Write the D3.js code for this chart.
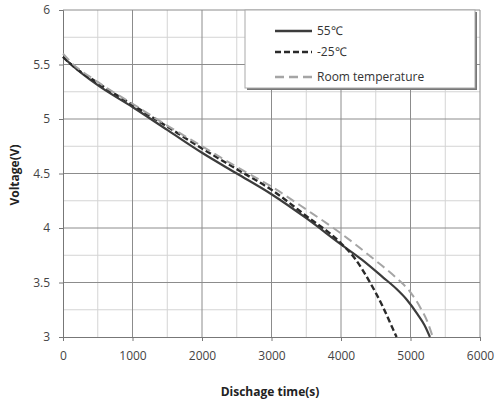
<!DOCTYPE html>
<html>
<head>
<meta charset="utf-8">
<script src="https://cdn.jsdelivr.net/npm/d3@7"></script>
<style>
  body { margin: 0; background: #fff; }
  text { font-family: "Open Sans", sans-serif; }
</style>
</head>
<body>
<script>
// discharge curves, time (s) vs voltage (V)
var hotTime = [0, 100, 500, 1000, 1500, 2000, 2500, 3000, 3500, 4000, 4300, 4600, 4800, 4950, 5100, 5200, 5280]
var hotVolt = [5.57, 5.51, 5.31, 5.11, 4.90, 4.69, 4.50, 4.31, 4.09, 3.85, 3.71, 3.55, 3.44, 3.34, 3.21, 3.11, 3.0]

var coldTime = [0, 100, 500, 1000, 1500, 2000, 2500, 3000, 3500, 4000, 4200, 4400, 4600, 4750, 4800]
var coldVolt = [5.57, 5.51, 5.33, 5.13, 4.93, 4.73, 4.54, 4.35, 4.11, 3.86, 3.72, 3.52, 3.28, 3.07, 3.0]

var roomTime = [0, 100, 500, 1000, 1500, 2000, 2500, 3000, 3500, 4000, 4500, 4800, 5000, 5150, 5250, 5320]
var roomVolt = [5.60, 5.53, 5.34, 5.14, 4.94, 4.75, 4.56, 4.38, 4.17, 3.95, 3.70, 3.54, 3.41, 3.26, 3.13, 3.0]

var seriesNames = ["55\u2103", "-25\u2103", "Room temperature"]
var xTicks = [0, 1000, 2000, 3000, 4000, 5000, 6000]
var yTicks = [3, 3.5, 4, 4.5, 5, 5.5, 6]

var width = 496
var height = 405
var pad = {left: 63, right: 16, top: 10, bottom: 68}

var svg = d3.select("body").append("svg")
            .attr("width", width)
            .attr("height", height)

var xScale = d3.scaleLinear().domain([0, 6000]).range([pad.left, width - pad.right])
var yScale = d3.scaleLinear().domain([3, 6]).range([height - pad.bottom, pad.top])

// minor grid
svg.append("g").selectAll("line")
   .data(d3.range(500, 6000, 1000))
   .enter().append("line")
   .attr("x1", function(d){ return xScale(d) })
   .attr("x2", function(d){ return xScale(d) })
   .attr("y1", yScale(3)).attr("y2", yScale(6))
   .attr("stroke", "#d4d4d4").attr("stroke-width", 1)
svg.append("g").selectAll("line")
   .data(d3.range(3.25, 6, 0.5))
   .enter().append("line")
   .attr("y1", function(d){ return yScale(d) })
   .attr("y2", function(d){ return yScale(d) })
   .attr("x1", xScale(0)).attr("x2", xScale(6000))
   .attr("stroke", "#d4d4d4").attr("stroke-width", 1)

// major grid
svg.append("g").selectAll("line")
   .data(xTicks.slice(1))
   .enter().append("line")
   .attr("x1", function(d){ return xScale(d) })
   .attr("x2", function(d){ return xScale(d) })
   .attr("y1", yScale(3)).attr("y2", yScale(6))
   .attr("stroke", "#8c8c8c").attr("stroke-width", 1)
svg.append("g").selectAll("line")
   .data(yTicks.slice(1))
   .enter().append("line")
   .attr("y1", function(d){ return yScale(d) })
   .attr("y2", function(d){ return yScale(d) })
   .attr("x1", xScale(0)).attr("x2", xScale(6000))
   .attr("stroke", "#8c8c8c").attr("stroke-width", 1)

// axes
var xAxis = d3.axisBottom(xScale).tickValues(xTicks).tickFormat(d3.format("d"))
              .tickSize(4).tickPadding(10)
var yAxis = d3.axisLeft(yScale).tickValues(yTicks).tickFormat(function(d){ return String(d) })
              .tickSize(4).tickPadding(9)

svg.append("g")
   .attr("transform", "translate(0," + yScale(3) + ")")
   .call(xAxis)
svg.append("g")
   .attr("transform", "translate(" + xScale(0) + ",0)")
   .call(yAxis)

svg.selectAll(".domain").attr("stroke", "#777")
svg.selectAll(".tick line").attr("stroke", "#777")
svg.selectAll(".tick text")
   .attr("fill", "#444")
   .style("font-size", "12px")
   .style("font-family", "'Open Sans', sans-serif")

// curves
var line = d3.line()
             .x(function(d){ return xScale(d[0]) })
             .y(function(d){ return yScale(d[1]) })
             .curve(d3.curveMonotoneX)

var styles = [
  {color: "#3c3c3c", dash: null, w: 2.2},
  {color: "#2a2a2a", dash: "6,3", w: 2.4},
  {color: "#a5a5a5", dash: "9,5", w: 2}
]
var curves = [d3.zip(hotTime, hotVolt), d3.zip(coldTime, coldVolt), d3.zip(roomTime, roomVolt)]

svg.append("g").selectAll("path")
   .data(curves)
   .enter().append("path")
   .attr("d", line)
   .attr("fill", "none")
   .attr("stroke", function(d, i){ return styles[i].color })
   .attr("stroke-width", function(d, i){ return styles[i].w })
   .attr("stroke-dasharray", function(d, i){ return styles[i].dash })

// legend
var legX = 245, legY = 10, legW = 230, legH = 78
svg.append("rect")
   .attr("x", legX + 2).attr("y", legY + 2)
   .attr("width", legW).attr("height", legH)
   .attr("fill", "#777")
svg.append("rect")
   .attr("x", legX).attr("y", legY)
   .attr("width", legW).attr("height", legH)
   .attr("fill", "#fff")
   .attr("stroke", "#aaa")

var legend = svg.selectAll(".legend")
   .data(seriesNames)
   .enter().append("g")
   .attr("class", "legend")
   .attr("transform", function(d, i){
      var rows = [31, 52, 77]
      return "translate(275," + rows[i] + ")"
   })

legend.append("line")
   .attr("x1", 0).attr("x2", 37)
   .attr("stroke", function(d, i){ return styles[i].color })
   .attr("stroke-width", function(d, i){ return styles[i].w + 0.3 })
   .attr("stroke-dasharray", function(d, i){ return styles[i].dash })

legend.append("text")
   .attr("x", 42)
   .attr("dy", "0.35em")
   .style("font-size", "12px")
   .attr("fill", "#333")
   .text(function(d){ return d })

// axis titles
svg.append("text")
   .attr("transform", "translate(270,396)")
   .style("text-anchor", "middle")
   .style("font-size", "12px")
   .style("font-weight", "bold")
   .attr("fill", "#222")
   .text("Dischage time(s)")

svg.append("text")
   .attr("transform", "translate(19,175) rotate(-90)")
   .style("text-anchor", "middle")
   .style("font-size", "12px")
   .style("font-weight", "bold")
   .attr("fill", "#222")
   .text("Voltage(V)")
</script>
</body>
</html>
